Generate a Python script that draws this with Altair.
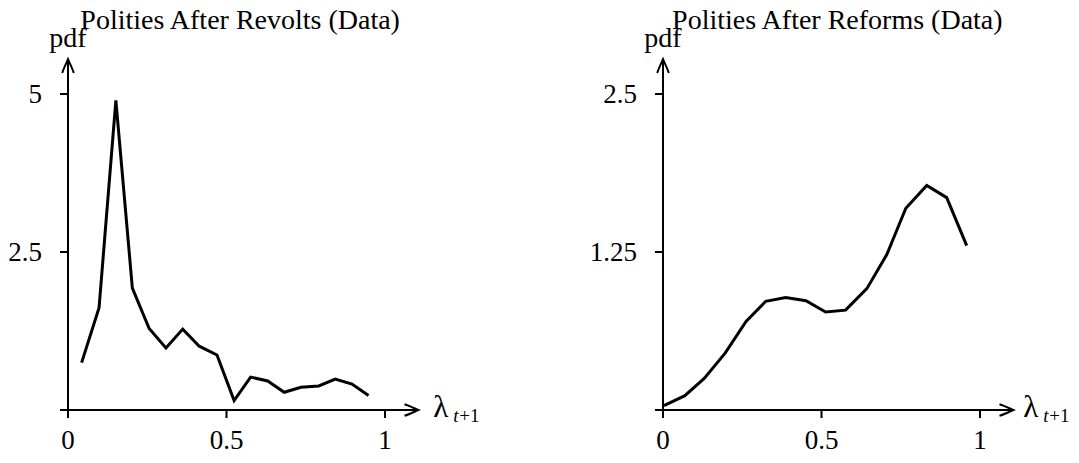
import altair as alt
import pandas as pd

# ---------------- data ----------------
titles = ["Polities After Revolts (Data)", "Polities After Reforms (Data)"]

rev_x = [0.043, 0.098, 0.151, 0.203, 0.256, 0.309, 0.362, 0.414, 0.470, 0.524,
         0.576, 0.630, 0.682, 0.735, 0.791, 0.843, 0.896, 0.948]
rev_pdf = [0.75, 1.62, 4.90, 1.93, 1.29, 0.98, 1.28, 1.01, 0.87, 0.15,
           0.52, 0.46, 0.28, 0.36, 0.38, 0.49, 0.41, 0.23]

ref_x = [0.003, 0.069, 0.130, 0.196, 0.262, 0.324, 0.387, 0.451, 0.513, 0.576,
         0.643, 0.706, 0.766, 0.832, 0.895, 0.958]
ref_pdf = [0.034, 0.113, 0.25, 0.45, 0.70, 0.86, 0.89, 0.865, 0.775, 0.79,
           0.96, 1.23, 1.596, 1.776, 1.68, 1.30]

x_ticks = [0, 0.5, 1]
x_tick_labels = ["0", "0.5", "1"]
rev_y_ticks = [0, 2.5, 5]
rev_y_tick_labels = ["", "2.5", "5"]
ref_y_ticks = [0, 1.25, 2.5]
ref_y_tick_labels = ["", "1.25", "2.5"]

# ---------------- styling / layout ----------------
FONT = "Liberation Serif"
X_END = 1.105          # arrow tip of the x axis (data units)
Y_END_FRAC = 1.11      # arrow tip of the y axis, as fraction of top tick
ARROW = "M -1 -0.42 C -0.6 -0.3 -0.2 -0.08 0 0 C -0.2 0.08 -0.6 0.3 -1 0.42"
Y0_PX, YTOP_PX = 402, 86


def panel(xs, ys, y_ticks, y_tick_labels, title, x_range, title_x, lam_dx):
    y_top = y_ticks[-1]
    y_end = y_top * Y_END_FRAC
    xsc = alt.Scale(domain=[0, 1], range=x_range, zero=False, nice=False)
    ysc = alt.Scale(domain=[0, y_top], range=[Y0_PX, YTOP_PX], zero=False, nice=False)

    def X(f):
        return alt.X(f, type="quantitative", scale=xsc, axis=None)

    def Y(f):
        return alt.Y(f, type="quantitative", scale=ysc, axis=None)

    line = alt.Chart(pd.DataFrame({"x": xs, "y": ys})).mark_line(
        color="black", strokeWidth=3, strokeJoin="miter"
    ).encode(x=X("x"), y=Y("y"))

    axes_df = pd.DataFrame({"x": [0, 0], "x2": [X_END, 0], "y": [0, 0], "y2": [0, y_end]})
    axes = alt.Chart(axes_df).mark_rule(color="black", strokeWidth=2).encode(
        x=X("x"), x2=alt.X2("x2"), y=Y("y"), y2=alt.Y2("y2")
    )

    xt_df = pd.DataFrame({"x": x_ticks, "y": [0] * len(x_ticks), "label": x_tick_labels})
    xticks = alt.Chart(xt_df).mark_rule(color="black", strokeWidth=2).encode(
        x=X("x"), y=Y("y"), y2=alt.value(Y0_PX + 8)
    )
    xlabels = alt.Chart(xt_df).mark_text(
        font=FONT, fontSize=27, align="center", baseline="alphabetic", color="black"
    ).encode(x=X("x"), y=alt.value(441), text="label:N")

    yt_df = pd.DataFrame({"y": y_ticks, "x": [0] * len(y_ticks), "label": y_tick_labels})
    yticks = alt.Chart(yt_df).mark_rule(color="black", strokeWidth=2).encode(
        y=Y("y"), x=X("x"), x2=alt.value(x_range[0] - 8)
    )
    ylabels = alt.Chart(yt_df).mark_text(
        font=FONT, fontSize=27, align="right", baseline="alphabetic", dx=-26, dy=9, color="black"
    ).encode(x=X("x"), y=Y("y"), text="label:N")

    arr_x = alt.Chart(pd.DataFrame({"x": [X_END], "y": [0]})).mark_point(
        shape=ARROW, filled=False, strokeWidth=2, size=760, color="black", opacity=1
    ).encode(x=X("x"), y=Y("y"))
    arr_y = alt.Chart(pd.DataFrame({"x": [0], "y": [y_end]})).mark_point(
        shape=ARROW, filled=False, strokeWidth=2, size=760, color="black", opacity=1, angle=270
    ).encode(x=X("x"), y=Y("y"))

    pdf_lab = alt.Chart(pd.DataFrame({"x": [0], "y": [y_end], "t": ["pdf"]})).mark_text(
        font=FONT, fontSize=28, align="center", baseline="alphabetic", dy=-12, color="black"
    ).encode(x=X("x"), y=Y("y"), text="t:N")

    lam = alt.Chart(pd.DataFrame({"x": [X_END], "y": [0], "t": ["λ"]})).mark_text(
        font=FONT, fontSize=31, align="left", baseline="alphabetic", dx=lam_dx, dy=7, color="black"
    ).encode(x=X("x"), y=Y("y"), text="t:N")
    sub_t = alt.Chart(pd.DataFrame({"x": [X_END], "y": [0], "t": ["t"]})).mark_text(
        font=FONT, fontSize=19, fontStyle="italic", align="left", baseline="alphabetic",
        dx=lam_dx + 20, dy=12, color="black"
    ).encode(x=X("x"), y=Y("y"), text="t:N")
    sub_p = alt.Chart(pd.DataFrame({"x": [X_END], "y": [0], "t": ["+1"]})).mark_text(
        font=FONT, fontSize=19, align="left", baseline="alphabetic", dx=lam_dx + 26, dy=12,
        color="black"
    ).encode(x=X("x"), y=Y("y"), text="t:N")

    ttl = alt.Chart(pd.DataFrame({"x": [title_x], "t": [title]})).mark_text(
        font=FONT, fontSize=28, align="center", baseline="alphabetic", color="black"
    ).encode(x=X("x"), y=alt.value(21), text="t:N")

    return alt.layer(axes, xticks, yticks, line, arr_x, arr_y, xlabels, ylabels,
                     pdf_lab, lam, sub_t, sub_p, ttl)


left = panel(rev_x, rev_pdf, rev_y_ticks, rev_y_tick_labels, titles[0], [60, 377], 0.543, 15)
right = panel(ref_x, ref_pdf, ref_y_ticks, ref_y_tick_labels, titles[1], [655, 972], 0.55, 10)

chart = alt.layer(left, right).resolve_scale(x="independent", y="independent").properties(
    width=1063, height=447, padding=0,
    autosize=alt.AutoSizeParams(type="none"),
).configure_view(stroke=None)

chart.save("out.html", embed_options={"renderer": "svg", "actions": False})
